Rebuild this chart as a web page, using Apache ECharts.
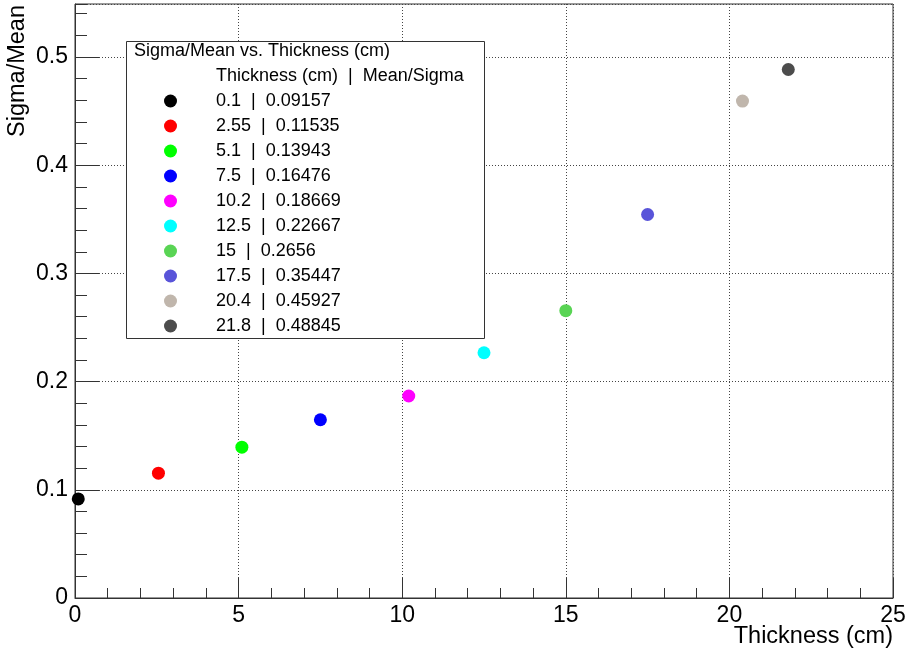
<!DOCTYPE html>
<html>
<head>
<meta charset="utf-8">
<script src="https://cdn.jsdelivr.net/npm/echarts@6/dist/echarts.min.js"></script>
<style>
  html, body { margin: 0; padding: 0; background: #fff; }
  #chart { width: 905px; height: 652px; }
</style>
</head>
<body>
<div id="chart"></div>
<script>
// Measured sigma/mean for each absorber thickness
const thickness = [0.1, 2.55, 5.1, 7.5, 10.2, 12.5, 15, 17.5, 20.4, 21.8];
const sigmaOverMean = [0.09157, 0.11535, 0.13943, 0.16476, 0.18669, 0.22667, 0.2656, 0.35447, 0.45927, 0.48845];
const pointColors = ['#000000', '#ff0000', '#00ff00', '#0000ff', '#ff00ff', '#00ffff', '#59d454', '#5954d9', '#c0b6ac', '#4c4c4c'];
const xTicks = [0, 5, 10, 15, 20, 25];
const yTicks = [0, 0.1, 0.2, 0.3, 0.4, 0.5];

const FONT = "'Liberation Sans', Arial, Helvetica, sans-serif";
const FRAME = '#333';

const series = thickness.map((t, i) => ({
  type: 'scatter',
  name: t + '  |  ' + sigmaOverMean[i],
  data: [[t, sigmaOverMean[i]]],
  symbol: 'circle',
  symbolSize: 13,
  itemStyle: { color: pointColors[i], opacity: 1 },
  z: 2
}));

const chart = echarts.init(document.getElementById('chart'), null, { renderer: 'canvas' });
chart.setOption({
  animation: false,
  textStyle: { fontFamily: FONT },
  grid: {
    left: 75, right: 12, top: 4, bottom: 54,
    outerBoundsMode: 'none', containLabel: false,
    show: true, borderColor: FRAME, borderWidth: 1, backgroundColor: 'transparent'
  },
  xAxis: {
    type: 'value',
    min: xTicks[0], max: xTicks[xTicks.length - 1], interval: 5,
    axisLine: { show: true, lineStyle: { color: FRAME, width: 1 } },
    axisTick: { show: true, inside: true, length: 20, lineStyle: { color: FRAME } },
    minorTick: { show: true, splitNumber: 5, length: 10, lineStyle: { color: FRAME } },
    axisLabel: { fontSize: 23, color: '#000', margin: 6, fontFamily: FONT },
    splitLine: { show: true, lineStyle: { color: '#444', type: [1, 2], width: 1 } }
  },
  yAxis: [
    {
      type: 'value',
      min: 0, max: 0.549, interval: 0.1,
      axisLine: { show: true, lineStyle: { color: FRAME, width: 1 } },
      axisTick: { show: true, inside: true, length: 24, lineStyle: { color: FRAME } },
      axisLabel: {
        fontSize: 23, color: '#000', margin: 7, fontFamily: FONT, showMaxLabel: false,
        formatter: v => (yTicks.some(t => Math.abs(t - v) < 1e-9) ? String(+v.toFixed(1)) : '')
      },
      splitLine: { show: true, lineStyle: { color: '#444', type: [1, 2], width: 1 } }
    },
    {
      // secondary scale carrying the short ticks every 0.02
      type: 'value', position: 'left', offset: 0,
      min: 0, max: 0.549, interval: 0.02,
      axisLine: { show: false },
      axisTick: { show: true, inside: true, length: 12, lineStyle: { color: FRAME } },
      axisLabel: { show: false },
      splitLine: { show: false }
    }
  ],
  legend: {
    orient: 'vertical',
    left: 126, top: 41,
    padding: [51, 5, 5, 38],
    itemWidth: 13, itemHeight: 13, itemGap: 7,
    icon: 'circle',
    selectedMode: false,
    textStyle: { fontSize: 18, color: '#000', fontFamily: FONT, padding: [0, 0, 0, 34] },
    data: series.map(s => s.name),
    z: 6
  },
  graphic: [
    {
      type: 'rect', z: 4,
      shape: { x: 126.5, y: 41.5, width: 358, height: 297 },
      style: { fill: '#fff', stroke: '#333', lineWidth: 1 }
    },
    {
      type: 'text', z: 7, x: 134, y: 51,
      style: { text: 'Sigma/Mean vs. Thickness (cm)', font: '18px ' + FONT, fill: '#000', align: 'left', verticalAlign: 'middle' }
    },
    {
      type: 'text', z: 7, x: 216, y: 76,
      style: { text: 'Thickness (cm)  |  Mean/Sigma', font: '18px ' + FONT, fill: '#000', align: 'left', verticalAlign: 'middle' }
    },
    {
      type: 'text', z: 7, x: 893, y: 637,
      style: { text: 'Thickness (cm)', font: '23.5px ' + FONT, fill: '#000', align: 'right', verticalAlign: 'middle' }
    },
    {
      type: 'text', z: 7, x: 18, y: 5, rotation: Math.PI / 2,
      style: { text: 'Sigma/Mean', font: '23.5px ' + FONT, fill: '#000', align: 'right', verticalAlign: 'middle' }
    }
  ],
  series: series
});
</script>
</body>
</html>
